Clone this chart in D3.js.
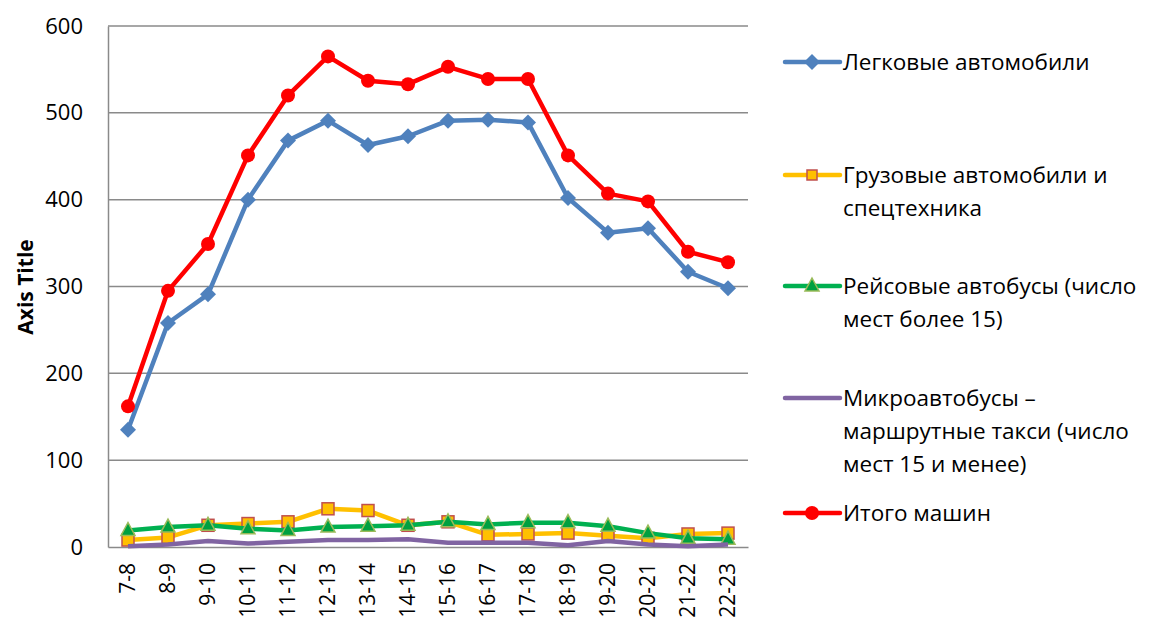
<!DOCTYPE html>
<html>
<head>
<meta charset="utf-8">
<script src="https://cdn.jsdelivr.net/npm/d3@7"></script>
<style>
  body { margin: 0; background: #fff; }
  text { font-family: "Open Sans", "Noto Sans", sans-serif; }
</style>
</head>
<body>
<div id="chart"></div>
<script>
// data
const hours = ["7-8", "8-9", "9-10", "10-11", "11-12", "12-13", "13-14", "14-15",
  "15-16", "16-17", "17-18", "18-19", "19-20", "20-21", "21-22", "22-23"];
const cars = [135, 258, 291, 400, 468, 491, 463, 473, 491, 492, 489, 402, 362, 367, 317, 298];
const trucks = [8, 11, 25, 27, 29, 44, 42, 25, 29, 14, 15, 16, 13, 10, 15, 16];
const buses = [19, 23, 25, 21, 19, 23, 24, 25, 29, 26, 28, 28, 24, 16, 10, 9];
const minibuses = [1, 3, 7, 4, 6, 8, 8, 9, 5, 5, 5, 2, 7, 3, 1, 3];
const total = [162, 295, 349, 451, 520, 565, 537, 533, 553, 539, 539, 451, 407, 398, 340, 328];
const yTicks = [0, 100, 200, 300, 400, 500, 600];

const seriesNames = [
  ["Легковые автомобили"],
  ["Грузовые автомобили и", "спецтехника"],
  ["Рейсовые автобусы (число", "мест более 15)"],
  ["Микроавтобусы –", "маршрутные такси (число", "мест 15 и менее)"],
  ["Итого машин"]
];

const series = [
  {values: cars, color: "#4f81bd", marker: "diamond"},
  {values: trucks, color: "#ffc000", marker: "square"},
  {values: buses, color: "#00b050", marker: "triangle"},
  {values: minibuses, color: "#8064a2", marker: "none"},
  {values: total, color: "#ff0000", marker: "circle"}
];

const W = 1149, H = 626;
const margin = {top: 26, left: 108, right: 401, bottom: 79};
const width = W - margin.left - margin.right,
    height = H - margin.top - margin.bottom;

const svg = d3.select("#chart").append("svg")
  .attr("width", W).attr("height", H);

const g = svg.append("g").attr("transform", `translate(${margin.left},${margin.top})`);

let x = d3.scaleBand().domain(hours).range([0, width]);
let y = d3.scaleLinear().domain([0, 600]).range([height, 0]);

// gridlines
g.append("g")
  .selectAll("line")
  .data(yTicks.filter(d => d > 0))
  .join("line")
  .attr("x1", 0).attr("x2", width)
  .attr("y1", d => y(d)).attr("y2", d => y(d))
  .attr("stroke", "#8a8a8a").attr("stroke-width", 1.5);

// y axis
const yAxis = g.append("g")
  .call(d3.axisLeft(y).tickValues(yTicks).tickSize(0).tickPadding(25));
yAxis.select(".domain").attr("stroke", "#8a8a8a").attr("stroke-width", 1.5);
yAxis.selectAll("text").attr("font-size", 22).attr("fill", "#000");

// x axis
const xAxis = g.append("g")
  .attr("transform", `translate(0,${height})`)
  .call(d3.axisBottom(x).tickSize(0));
xAxis.select(".domain").attr("stroke", "#8a8a8a").attr("stroke-width", 1.5);
xAxis.selectAll("text")
  .attr("font-size", 21).attr("fill", "#000")
  .attr("transform", "rotate(-90)")
  .attr("text-anchor", "end")
  .attr("x", -16).attr("y", 0).attr("dy", "0.35em");

// axis title
svg.append("text")
  .attr("transform", "translate(33,287) rotate(-90)")
  .attr("text-anchor", "middle")
  .attr("font-size", 21).attr("font-weight", "bold")
  .text("Axis Title");

const line = d3.line()
  .x((d, i) => x(hours[i]) + x.bandwidth() / 2)
  .y(d => y(d));

function drawMarker(sel, type, color) {
  if (type === "diamond") {
    sel.append("path").attr("d", "M0,-8L8,0L0,8L-8,0Z").attr("fill", color);
  } else if (type === "square") {
    sel.append("rect").attr("x", -6).attr("y", -6).attr("width", 12).attr("height", 12)
      .attr("fill", "#ffc000").attr("stroke", "#c0504d").attr("stroke-width", 1.5);
  } else if (type === "triangle") {
    sel.append("path").attr("d", "M0,-8L7,5L-7,5Z")
      .attr("fill", "#00a040").attr("stroke", "#9bbb59").attr("stroke-width", 1.5);
  } else if (type === "circle") {
    sel.append("circle").attr("r", 7).attr("fill", color);
  }
}

series.forEach(s => {
  g.append("path")
    .datum(s.values)
    .attr("d", line)
    .attr("fill", "none")
    .attr("stroke", s.color)
    .attr("stroke-width", 4.5)
    .attr("stroke-linejoin", "round");
  if (s.marker !== "none") {
    g.append("g").selectAll("g")
      .data(s.values)
      .join("g")
      .attr("transform", (d, i) => `translate(${x(hours[i]) + x.bandwidth() / 2},${y(d)})`)
      .each(function () { drawMarker(d3.select(this), s.marker, s.color); });
  }
});

// legend
const legendY = [62, 175, 286, 398, 513];
const legend = svg.append("g");
series.forEach((s, i) => {
  const row = legend.append("g").attr("transform", `translate(785,${legendY[i]})`);
  row.append("line").attr("x1", 0).attr("x2", 55)
    .attr("stroke", s.color).attr("stroke-width", 4.5).attr("stroke-linecap", "round");
  const m = row.append("g").attr("transform", "translate(27,0)");
  drawMarker(m, s.marker, s.color);
  if (s.marker === "square") m.select("rect").attr("x", -5).attr("y", -5).attr("width", 10).attr("height", 10);
  const t = row.append("text").attr("x", 58).attr("font-size", 22.5).attr("dy", "0.35em");
  seriesNames[i].forEach((ln, j) => {
    t.append("tspan").attr("x", 58).attr("dy", j === 0 ? "0.35em" : 33).text(ln);
  });
});
</script>
</body>
</html>
